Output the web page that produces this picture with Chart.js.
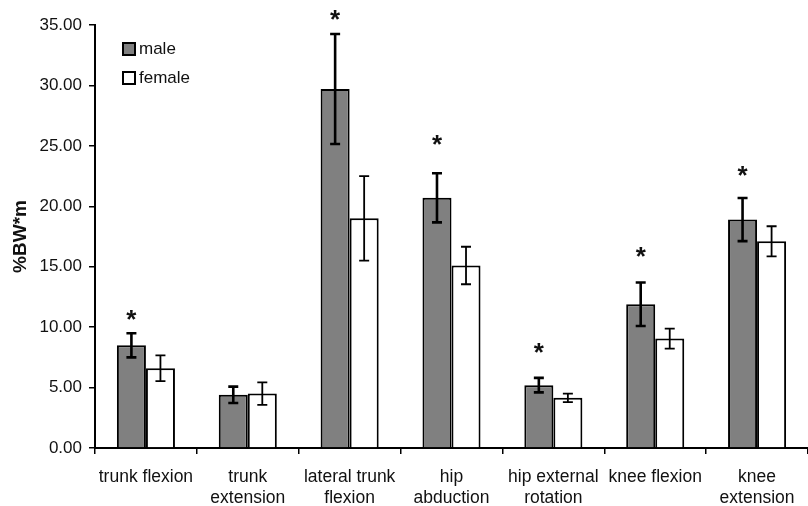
<!DOCTYPE html>
<html>
<head>
<meta charset="utf-8">
<script src="https://cdn.jsdelivr.net/npm/chart.js@4"></script>
<style>
  html, body { margin: 0; padding: 0; background: #fff; }
  #wrap { width: 808px; height: 506px; }
</style>
</head>
<body>
<div id="wrap"><canvas id="chart"></canvas></div>
<script>
const categories = ['trunk flexion', ['trunk', 'extension'], ['lateral trunk', 'flexion'], ['hip', 'abduction'],
    ['hip external', 'rotation'], 'knee flexion', ['knee', 'extension']];
const maleMeans = [8.5, 4.4, 29.7, 20.7, 5.2, 11.9, 18.9];
const maleSD = [1.0, 0.68, 4.55, 2.03, 0.6, 1.8, 1.78];
const femaleMeans = [6.6, 4.5, 19.0, 15.1, 4.15, 9.05, 17.1];
const femaleSD = [1.07, 0.93, 3.5, 1.55, 0.35, 0.82, 1.25];
// where the significance star sits (null = no star)
const starAt = [11.0, null, 35.8, 25.5, 8.3, 16.2, 22.9];

const FONT = 'Liberation Sans, Arial, sans-serif';

const extras = {
    id: 'extras',
    afterDatasetsDraw(chart) {
        const ctx = chart.ctx;
        const y = chart.scales.y;
        const sds = [maleSD, femaleSD];
        ctx.save();
        // error bars
        chart.data.datasets.forEach((ds, di) => {
            const meta = chart.getDatasetMeta(di);
            ctx.strokeStyle = '#000';
            ctx.lineWidth = di === 0 ? 2.6 : 1.8;
            meta.data.forEach((bar, i) => {
                const top = y.getPixelForValue(ds.data[i] + sds[di][i]);
                const bot = y.getPixelForValue(ds.data[i] - sds[di][i]);
                ctx.beginPath();
                ctx.moveTo(bar.x, top); ctx.lineTo(bar.x, bot);
                ctx.moveTo(bar.x - 5, top); ctx.lineTo(bar.x + 5, top);
                ctx.moveTo(bar.x - 5, bot); ctx.lineTo(bar.x + 5, bot);
                ctx.stroke();
            });
        });
        // stars
        ctx.fillStyle = '#111';
        ctx.font = 'bold 26px ' + FONT;
        ctx.textAlign = 'center';
        ctx.textBaseline = 'alphabetic';
        const m = ctx.measureText('*');
        const shift = (m.actualBoundingBoxAscent - m.actualBoundingBoxDescent) / 2;
        const male = chart.getDatasetMeta(0);
        starAt.forEach((v, i) => {
            if (v === null) return;
            ctx.fillText('*', male.data[i].x, y.getPixelForValue(v) + shift);
        });
        // legend
        ctx.font = '17px ' + FONT;
        ctx.textAlign = 'left';
        ctx.textBaseline = 'middle';
        chart.data.datasets.forEach((ds, di) => {
            const bx = 123, by = 43 + di * 29;
            ctx.fillStyle = ds.backgroundColor;
            ctx.fillRect(bx, by, 12, 12);
            ctx.lineWidth = 2;
            ctx.strokeStyle = '#000';
            ctx.strokeRect(bx, by, 12, 12);
            ctx.fillStyle = '#111';
            ctx.fillText(ds.label, bx + 16, by + 6.5);
        });
        ctx.restore();
    }
};

new Chart(document.getElementById('chart'), {
    type: 'bar',
    data: {
        labels: categories,
        datasets: [
            { label: 'male', data: maleMeans, backgroundColor: '#808080', borderColor: '#000', borderWidth: 2 },
            { label: 'female', data: femaleMeans, backgroundColor: '#ffffff', borderColor: '#000', borderWidth: 2 }
        ]
    },
    options: {
        responsive: true,
        maintainAspectRatio: false,
        animation: false,
        categoryPercentage: 0.57,
        barPercentage: 1.0,
        layout: { padding: { top: 25, right: 0, left: 0, bottom: 0 } },
        plugins: { legend: { display: false }, tooltip: { enabled: false } },
        scales: {
            x: {
                grid: { offset: true, drawOnChartArea: false, color: '#000', tickLength: 6, lineWidth: 1.5 },
                border: { display: true, color: '#000', width: 2 },
                ticks: { color: '#111', font: { family: FONT, size: 17.5, lineHeight: 1.23 }, padding: 12,
                    maxRotation: 0, autoSkip: false },
                afterFit(s) { s.height = 58; }
            },
            y: {
                min: 0, max: 35,
                grid: { drawOnChartArea: false, color: '#000', tickLength: 6, lineWidth: 1.5 },
                border: { display: true, color: '#000', width: 2 },
                ticks: { stepSize: 5, color: '#111', font: { family: FONT, size: 17 }, padding: 7,
                    callback: v => v.toFixed(2) },
                title: { display: true, text: '%BW*m', color: '#111', font: { family: FONT, size: 19, weight: 'bold' },
                    padding: { top: 9, bottom: 0 } },
                afterFit(s) { s.width = 95; }
            }
        }
    },
    plugins: [extras]
});
</script>
</body>
</html>
